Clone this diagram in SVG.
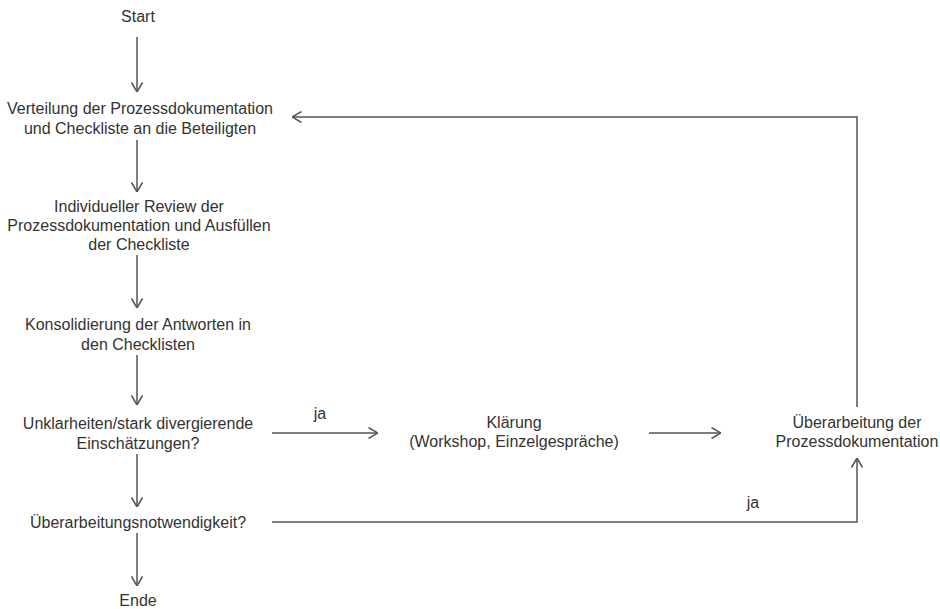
<svg xmlns="http://www.w3.org/2000/svg" width="940" height="609" viewBox="0 0 940 609">
<style>
text{font-family:"Liberation Sans",Arial,sans-serif;font-size:16px;fill:#333;text-anchor:middle}
.c{fill:none;stroke:#555;stroke-width:1.5}
</style>
<defs>
<marker id="ah" viewBox="0 0 10 12" refX="10" refY="6" markerWidth="10" markerHeight="12" markerUnits="userSpaceOnUse" orient="auto">
<path d="M0.5,0.5 L10,6 L0.5,11.5" fill="none" stroke="#555" stroke-width="1.5"/>
</marker>
</defs>
<rect width="940" height="609" fill="#fff"/>
<g id="connectors">
<line class="c" x1="137" y1="37" x2="137" y2="92" marker-end="url(#ah)"/>
<line class="c" x1="137" y1="140" x2="137" y2="192" marker-end="url(#ah)"/>
<line class="c" x1="137" y1="255" x2="137" y2="308" marker-end="url(#ah)"/>
<line class="c" x1="137" y1="355" x2="137" y2="405" marker-end="url(#ah)"/>
<line class="c" x1="137" y1="454" x2="137" y2="507" marker-end="url(#ah)"/>
<line class="c" x1="137" y1="533" x2="137" y2="586" marker-end="url(#ah)"/>
<line class="c" x1="272" y1="433" x2="378" y2="433" marker-end="url(#ah)"/>
<line class="c" x1="649" y1="433" x2="721" y2="433" marker-end="url(#ah)"/>
<polyline class="c" points="857,407 857,117 292,117" marker-end="url(#ah)"/>
<polyline class="c" points="272,522 857,522 857,458" marker-end="url(#ah)"/>
<text x="320" y="419">ja</text>
<text x="753" y="508">ja</text>
</g>
<g id="start"><text x="138" y="22">Start</text></g>
<g id="verteilung"><text x="140" y="114">Verteilung der Prozessdokumentation</text><text x="140" y="134">und Checkliste an die Beteiligten</text></g>
<g id="review"><text x="139" y="212">Individueller Review der</text><text x="139" y="231">Prozessdokumentation und Ausfüllen</text><text x="139" y="250">der Checkliste</text></g>
<g id="konsolidierung"><text x="138" y="330">Konsolidierung der Antworten in</text><text x="138" y="350">den Checklisten</text></g>
<g id="unklarheiten"><text x="138" y="429">Unklarheiten/stark divergierende</text><text x="138" y="449">Einschätzungen?</text></g>
<g id="notwendigkeit"><text x="138" y="528">Überarbeitungsnotwendigkeit?</text></g>
<g id="ende"><text x="138" y="606">Ende</text></g>
<g id="klaerung"><text x="514" y="428">Klärung</text><text x="514" y="447">(Workshop, Einzelgespräche)</text></g>
<g id="ueberarbeitung"><text x="857" y="428">Überarbeitung der</text><text x="857" y="447">Prozessdokumentation</text></g>
</svg>
